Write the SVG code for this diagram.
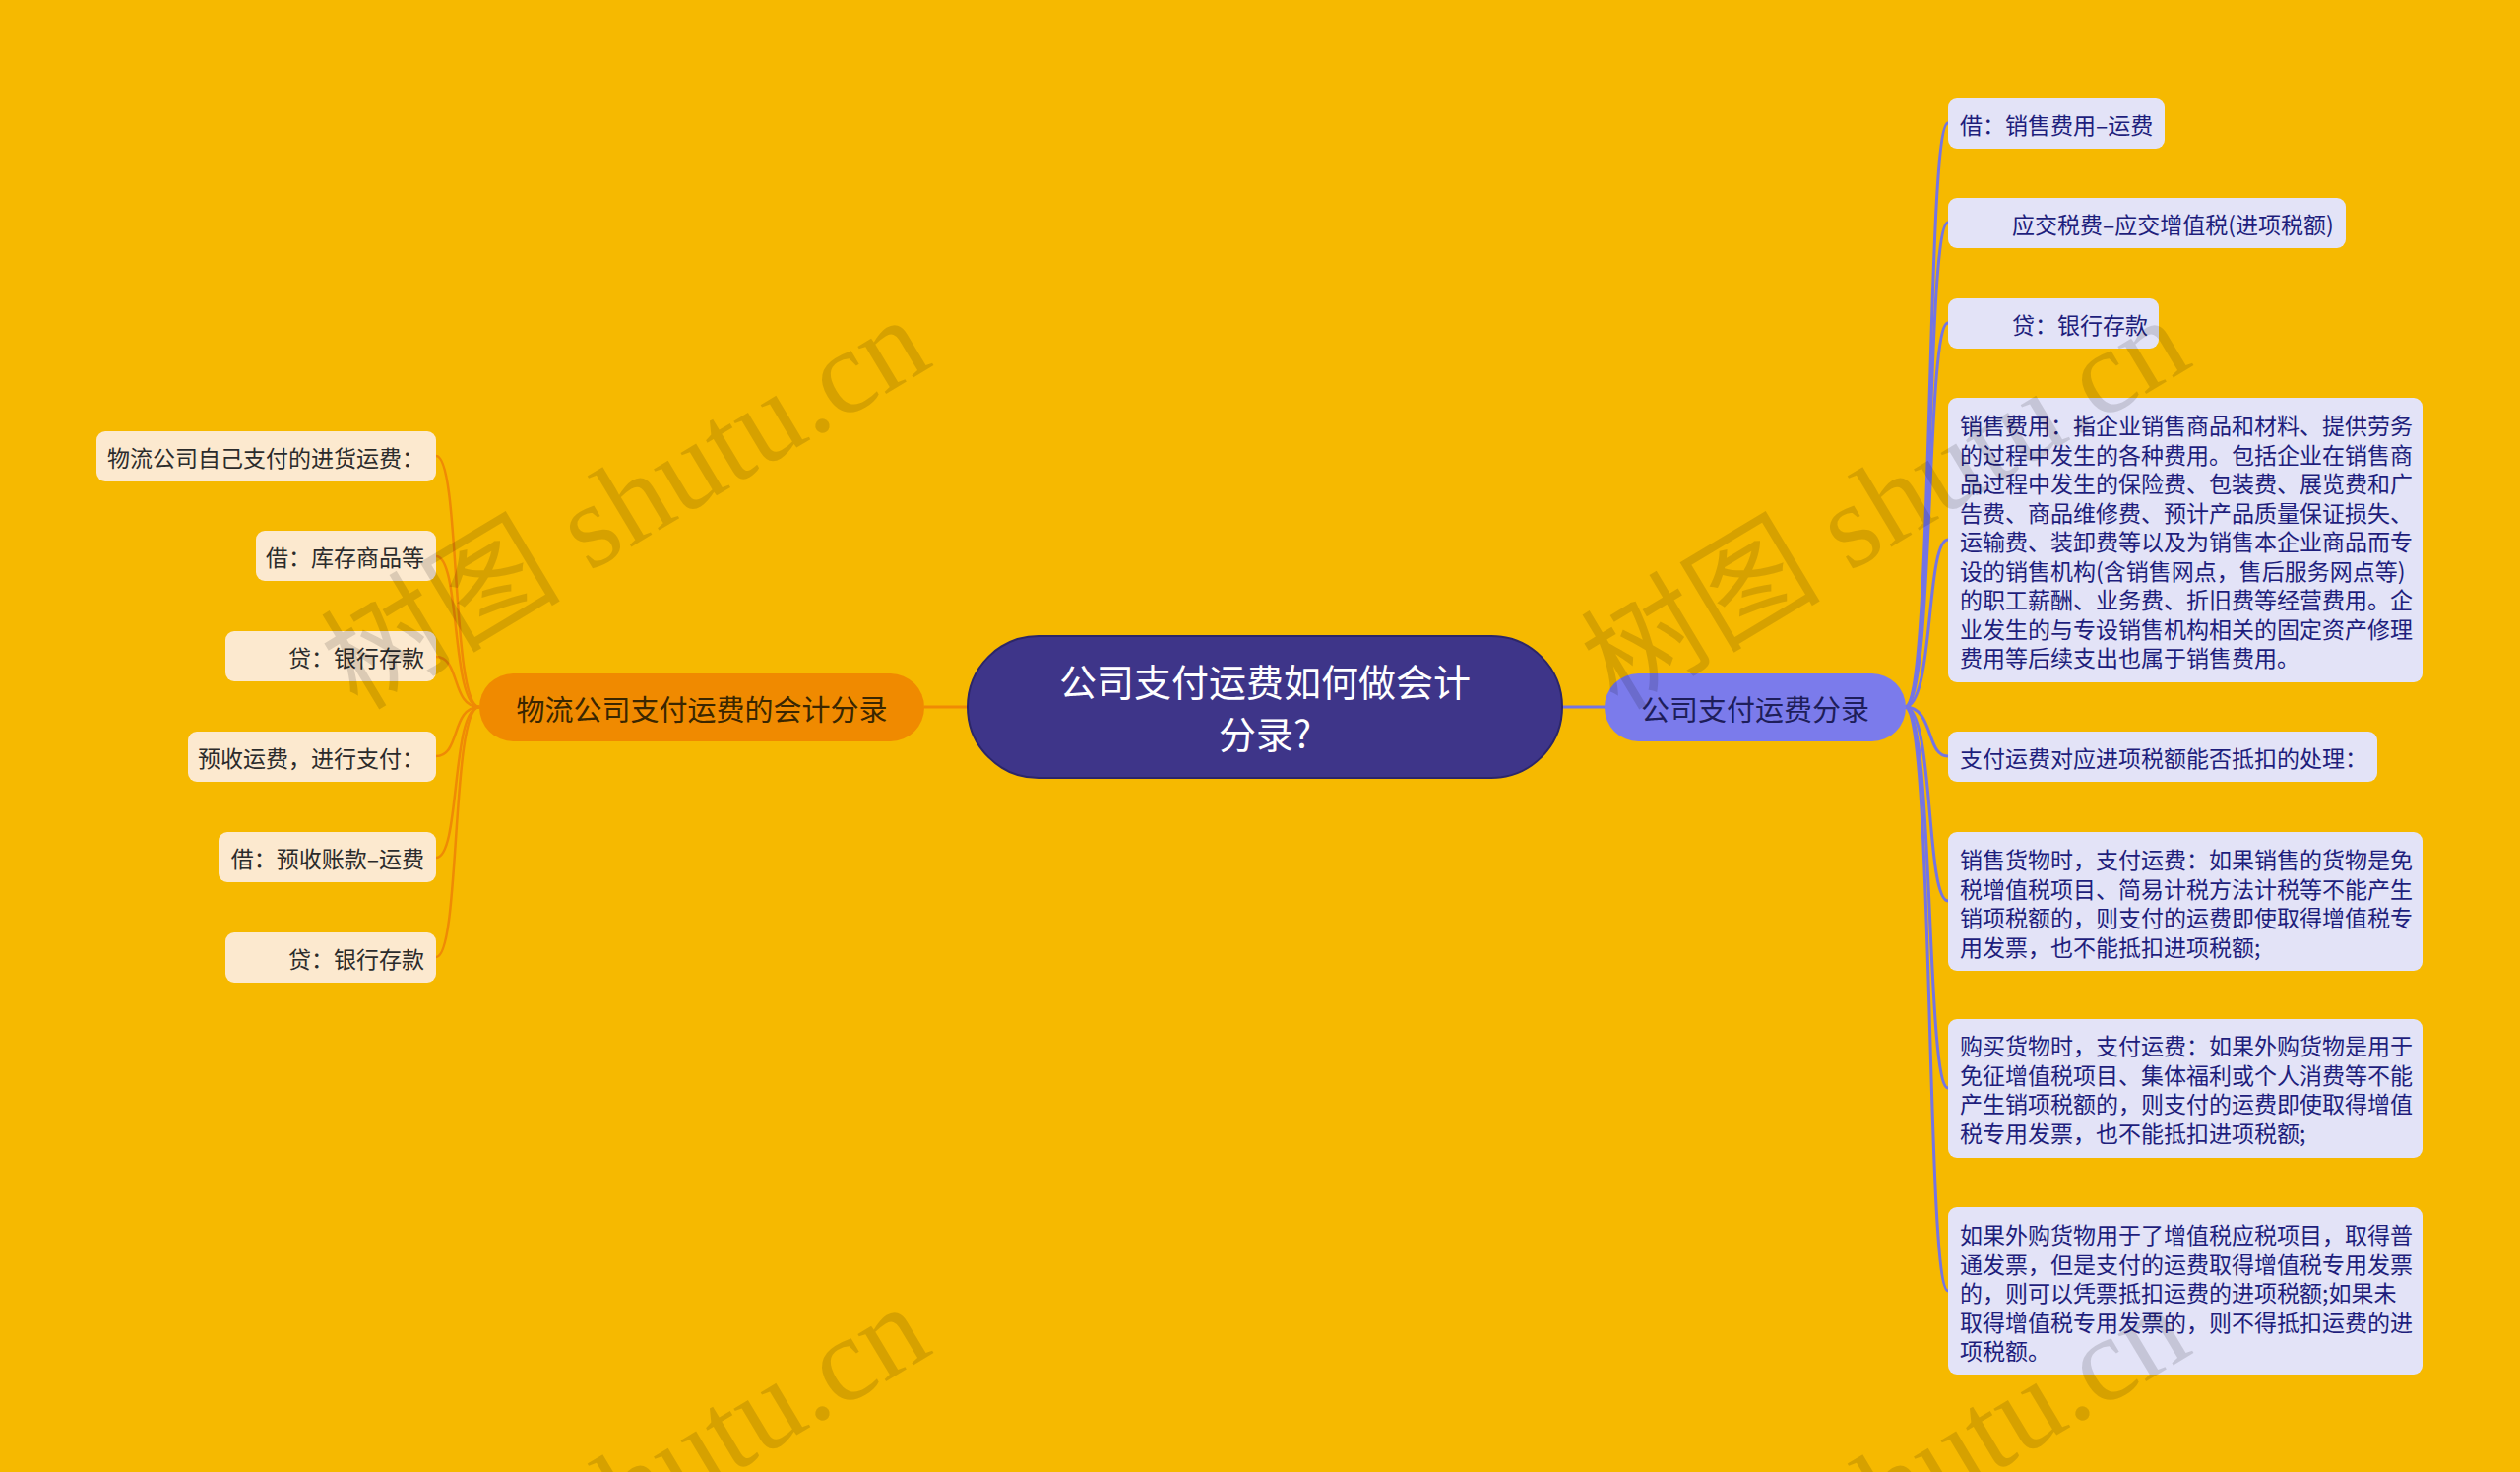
<svg xmlns="http://www.w3.org/2000/svg" width="2560" height="1495" viewBox="0 0 2560 1495">
<style>
.t{font-family:"Noto Sans CJK SC","Noto Sans",sans-serif;}
.lf rect{fill:#FCE9CF;}
.lf text{font-size:23px;fill:#2B2B2B;text-anchor:end;dominant-baseline:central;}
.rt rect{fill:#E3E3F7;}
.rt text{font-size:23px;fill:#1E1E7C;dominant-baseline:central;}
.lc{fill:none;stroke:#EF8A05;stroke-width:2.5;}
.rc{fill:none;stroke:#7474E4;stroke-width:3;}
.wm{font-family:"Liberation Serif","Noto Sans CJK SC",serif;font-size:122px;fill:#000;fill-opacity:0.13;text-anchor:end;}
</style>
<rect x="0" y="0" width="2560" height="1495" fill="#F6B900"/>
<g id="connectors">
<line x1="939" y1="718" x2="984" y2="718" stroke="#EF8A05" stroke-width="3"/>
<line x1="1586" y1="718" x2="1631" y2="718" stroke="#7474E4" stroke-width="3"/>
<path class="lc" d="M487 718 C458 718 468 463 443 463"/>
<path class="lc" d="M487 718 C458 718 468 565 443 565"/>
<path class="lc" d="M487 718 C458 718 468 667 443 667"/>
<path class="lc" d="M487 718 C458 718 468 768 443 768"/>
<path class="lc" d="M487 718 C458 718 468 871 443 871"/>
<path class="lc" d="M487 718 C458 718 468 972 443 972"/>
<path class="rc" d="M1935 718 C1965 718 1956 125 1979 125"/>
<path class="rc" d="M1935 718 C1965 718 1956 226 1979 226"/>
<path class="rc" d="M1935 718 C1965 718 1956 328 1979 328"/>
<path class="rc" d="M1935 718 C1965 718 1956 548 1979 548"/>
<path class="rc" d="M1935 718 C1965 718 1956 768 1979 768"/>
<path class="rc" d="M1935 718 C1965 718 1956 915 1979 915"/>
<path class="rc" d="M1935 718 C1965 718 1956 1105 1979 1105"/>
<path class="rc" d="M1935 718 C1965 718 1956 1311 1979 1311"/>
</g>
<g id="root" class="t">
<rect x="983" y="646" width="604" height="144" rx="72" fill="#3E3589" stroke="#2C2668" stroke-width="2"/>
<text x="1285" y="690" font-size="38" fill="#FFFFFF" text-anchor="middle" dominant-baseline="central">公司支付运费如何做会计</text>
<text x="1285" y="743" font-size="38" fill="#FFFFFF" text-anchor="middle" dominant-baseline="central">分录?</text>
</g>
<g id="branch-left" class="t">
<rect x="487" y="684" width="452" height="69" rx="34.5" fill="#F08A00"/>
<text x="713" y="718.5" font-size="29" fill="#3A2600" text-anchor="middle" dominant-baseline="central">物流公司支付运费的会计分录</text>
</g>
<g id="branch-right" class="t">
<rect x="1630" y="684" width="306" height="69" rx="34.5" fill="#7B7BEB"/>
<text x="1783" y="718.5" font-size="29" fill="#1E1E5A" text-anchor="middle" dominant-baseline="central">公司支付运费分录</text>
</g>
<g id="l1" class="t lf"><rect x="98" y="438" width="345" height="51" rx="9"/><text x="431" y="463.5">物流公司自己支付的进货运费：</text></g>
<g id="l2" class="t lf"><rect x="260" y="539" width="183" height="51" rx="9"/><text x="431" y="564.5">借：库存商品等</text></g>
<g id="l3" class="t lf"><rect x="229" y="641" width="214" height="51" rx="9"/><text x="431" y="666.5">贷：银行存款</text></g>
<g id="l4" class="t lf"><rect x="191" y="743" width="252" height="51" rx="9"/><text x="431" y="768.5">预收运费，进行支付：</text></g>
<g id="l5" class="t lf"><rect x="222" y="845" width="221" height="51" rx="9"/><text x="431" y="870.5">借：预收账款–运费</text></g>
<g id="l6" class="t lf"><rect x="229" y="947" width="214" height="51" rx="9"/><text x="431" y="972.5">贷：银行存款</text></g>
<g id="r1" class="t rt"><rect x="1979" y="100" width="220" height="51" rx="9"/><text x="1991" y="125.5">借：销售费用–运费</text></g>
<g id="r2" class="t rt"><rect x="1979" y="201" width="404" height="51" rx="9"/><text x="2044" y="226.5">应交税费–应交增值税(进项税额)</text></g>
<g id="r3" class="t rt"><rect x="1979" y="303" width="214" height="51" rx="9"/><text x="2044" y="328.5">贷：银行存款</text></g>
<g id="r4" class="t rt"><rect x="1979" y="404" width="482" height="289" rx="9"/>
<text x="1991" y="431">销售费用：指企业销售商品和材料、提供劳务</text>
<text x="1991" y="460.5">的过程中发生的各种费用。包括企业在销售商</text>
<text x="1991" y="490">品过程中发生的保险费、包装费、展览费和广</text>
<text x="1991" y="519.5">告费、商品维修费、预计产品质量保证损失、</text>
<text x="1991" y="549">运输费、装卸费等以及为销售本企业商品而专</text>
<text x="1991" y="578.5">设的销售机构(含销售网点，售后服务网点等)</text>
<text x="1991" y="608">的职工薪酬、业务费、折旧费等经营费用。企</text>
<text x="1991" y="637.5">业发生的与专设销售机构相关的固定资产修理</text>
<text x="1991" y="667">费用等后续支出也属于销售费用。</text>
</g>
<g id="r5" class="t rt"><rect x="1979" y="743" width="436" height="51" rx="9"/><text x="1991" y="768.5">支付运费对应进项税额能否抵扣的处理：</text></g>
<g id="r6" class="t rt"><rect x="1979" y="845" width="482" height="141" rx="9"/>
<text x="1991" y="872">销售货物时，支付运费：如果销售的货物是免</text>
<text x="1991" y="901.5">税增值税项目、简易计税方法计税等不能产生</text>
<text x="1991" y="931">销项税额的，则支付的运费即使取得增值税专</text>
<text x="1991" y="960.5">用发票，也不能抵扣进项税额;</text>
</g>
<g id="r7" class="t rt"><rect x="1979" y="1035" width="482" height="141" rx="9"/>
<text x="1991" y="1061">购买货物时，支付运费：如果外购货物是用于</text>
<text x="1991" y="1090.5">免征增值税项目、集体福利或个人消费等不能</text>
<text x="1991" y="1120">产生销项税额的，则支付的运费即使取得增值</text>
<text x="1991" y="1149.5">税专用发票，也不能抵扣进项税额;</text>
</g>
<g id="r8" class="t rt"><rect x="1979" y="1226" width="482" height="170" rx="9"/>
<text x="1991" y="1253">如果外购货物用于了增值税应税项目，取得普</text>
<text x="1991" y="1282.5">通发票，但是支付的运费取得增值税专用发票</text>
<text x="1991" y="1312">的，则可以凭票抵扣运费的进项税额;如果未</text>
<text x="1991" y="1341.5">取得增值税专用发票的，则不得抵扣运费的进</text>
<text x="1991" y="1371">项税额。</text>
</g>
<g id="watermark">
<text class="wm" x="950" y="370" transform="rotate(-31 950 370)">树图 shutu.cn</text>
<text class="wm" x="2230" y="370" transform="rotate(-31 2230 370)">树图 shutu.cn</text>
<text class="wm" x="950" y="1373" transform="rotate(-31 950 1373)">树图 shutu.cn</text>
<text class="wm" x="2230" y="1373" transform="rotate(-31 2230 1373)">树图 shutu.cn</text>
</g>
</svg>
